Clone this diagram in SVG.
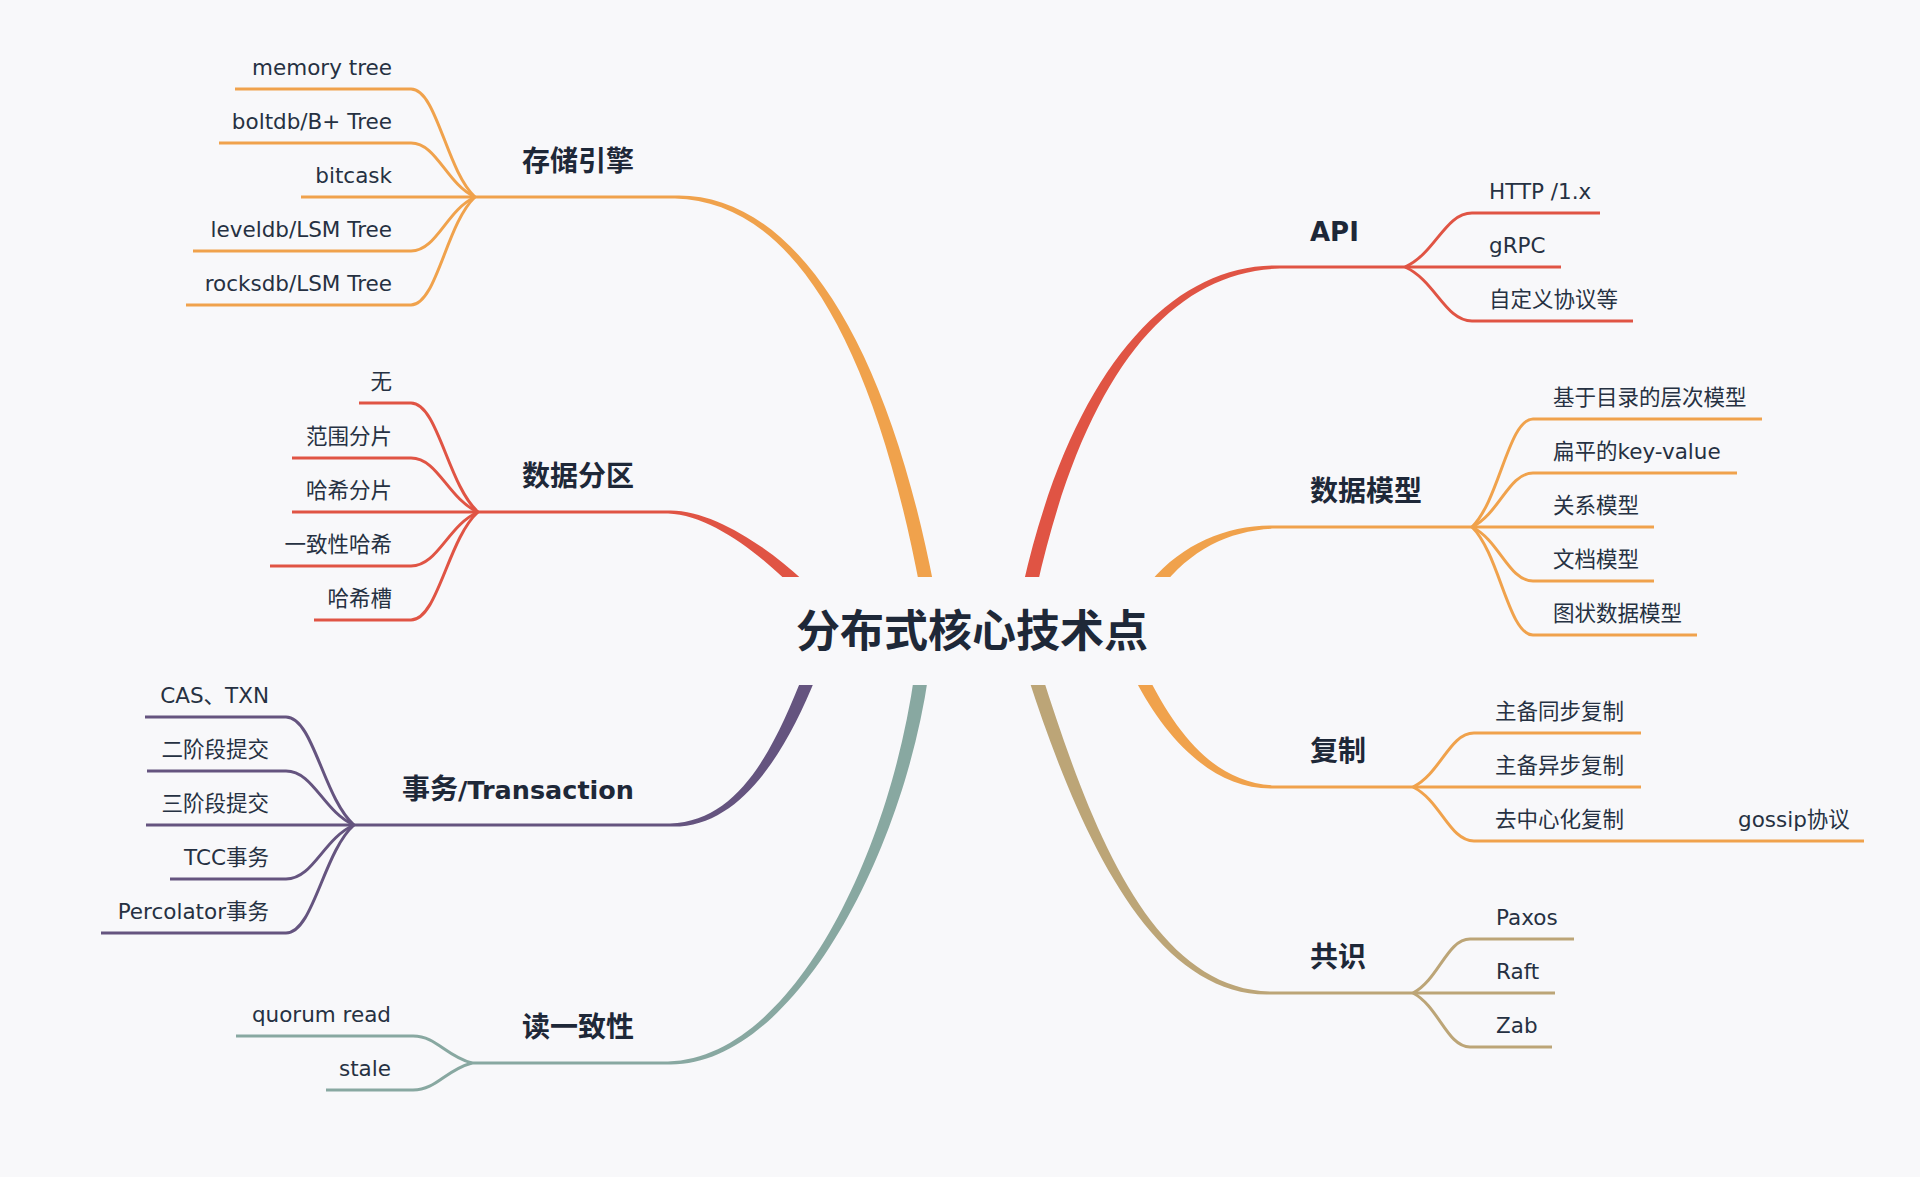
<svg xmlns="http://www.w3.org/2000/svg" width="1920" height="1177" viewBox="0 0 1920 1177">
<defs>
<style>
.c{font-family:"DejaVu Sans","Noto Sans CJK SC",sans-serif;font-size:21.5px;fill:#263142}
.m{font-family:"DejaVu Sans","Noto Sans CJK SC",sans-serif;font-size:28px;font-weight:700;fill:#1e2838}
.root{font-family:"Noto Sans CJK SC",sans-serif;font-size:44px;font-weight:700;fill:#1e2838}
.ln{fill:none;stroke-width:3;stroke-linecap:butt}
.or{stroke:#F0A24C}.rd{stroke:#E05444}.pu{stroke:#65547F}.te{stroke:#88A8A1}.ta{stroke:#BCA577}
</style>
<clipPath id="cut">
<rect x="0" y="0" width="1920" height="577"/>
<rect x="0" y="685" width="1920" height="492"/>
</clipPath>
</defs>
<rect width="1920" height="1177" fill="#F8F8FA"/>

<g id="connectors">
<g id="branches" clip-path="url(#cut)">
<path fill="#F0A24C" d="M933.8 585.5 C882.4 320.8 785 192.5 675 195.5 L675 198.5 C785 201.5 869.6 323.2 920 588.1 Z"/>
<path fill="#E05444" d="M802.4 579.7 C765.5 545.4 710 509 668 510.5 L668 513.5 C710 515 758.5 552.6 794 588.3 Z"/>
<path fill="#65547F" d="M803.7 673.3 C774.4 747.8 740 821 670 823.5 L670 826.5 C740 829 785.6 752.2 815.7 678.1 Z"/>
<path fill="#88A8A1" d="M914.5 674.1 C888.6 859.1 790 1058.5 668 1061.5 L668 1064.5 C790 1067.5 901.4 860.9 928.3 676.1 Z"/>
<path fill="#E05444" d="M1036.6 588.3 C1084.3 372.4 1171 271.5 1280 268.5 L1280 265.5 C1171 262.5 1071.7 369.6 1023 585.3 Z"/>
<path fill="#F0A24C" d="M1160.4 588.6 C1190.9 549.1 1230 530 1275 528.5 L1275 525.5 C1230 524 1183.1 542.9 1151 581 Z"/>
<path fill="#F0A24C" d="M1134.7 679.1 C1166.7 740.7 1215 791 1275 788.5 L1275 785.5 C1215 783 1177.3 735.3 1146.3 673.1 Z"/>
<path fill="#BCA577" d="M1028.2 677.6 C1076.8 827 1150 997.5 1270 994.5 L1270 991.5 C1150 988.5 1089.2 823 1041.6 673.4 Z"/>
</g>
<g class="ln or">
<path d="M475 197 H675"/>
<path d="M235 89 H411 C436.6 89 446.2 170 475 197"/>
<path d="M219 143 H411 C436.6 143 446.2 183.5 475 197"/>
<path d="M301 197 H475"/>
<path d="M193 251 H411 C436.6 251 446.2 210.5 475 197"/>
<path d="M186 305 H411 C436.6 305 446.2 224 475 197"/>
</g>
<g class="ln rd">
<path d="M478 512 H668"/>
<path d="M359 403 H411 C437.8 403 447.8 484.8 478 512"/>
<path d="M292 458 H411 C437.8 458 447.8 498.5 478 512"/>
<path d="M292 512 H478"/>
<path d="M270 566 H411 C437.8 566 447.8 525.5 478 512"/>
<path d="M314 620 H411 C437.8 620 447.8 539 478 512"/>
</g>
<g class="ln pu">
<path d="M354 825 H670"/>
<path d="M145 717 H286 C313.2 717 323.4 798 354 825"/>
<path d="M147 771 H286 C313.2 771 323.4 811.5 354 825"/>
<path d="M146 825 H354"/>
<path d="M170 879 H286 C313.2 879 323.4 838.5 354 825"/>
<path d="M101 933 H286 C313.2 933 323.4 852 354 825"/>
</g>
<g class="ln te">
<path d="M472 1063 H668"/>
<path d="M236 1036 H413 C436.6 1036 445.4 1056 472 1063"/>
<path d="M326 1090 H413 C436.6 1090 445.4 1070 472 1063"/>
</g>
<g class="ln rd">
<path d="M1280 267 H1405"/>
<path d="M1405 267 C1435.2 253.5 1445.2 213 1472 213 H1600"/>
<path d="M1405 267 H1561"/>
<path d="M1405 267 C1435.2 280.5 1445.2 321 1472 321 H1633"/>
</g>
<g class="ln or">
<path d="M1275 527 H1472"/>
<path d="M1472 527 C1499.5 500 1508.6 419 1533 419 H1762"/>
<path d="M1472 527 C1499.5 513.5 1508.6 473 1533 473 H1737"/>
<path d="M1472 527 H1654"/>
<path d="M1472 527 C1499.5 540.5 1508.6 581 1533 581 H1654"/>
<path d="M1472 527 C1499.5 554 1508.6 635 1533 635 H1697"/>
</g>
<g class="ln or">
<path d="M1275 787 H1413"/>
<path d="M1413 787 C1440.5 773.5 1449.6 733 1474 733 H1641"/>
<path d="M1413 787 H1641"/>
<path d="M1413 787 C1440.5 800.5 1449.6 841 1474 841 H1864"/>
</g>
<g class="ln ta">
<path d="M1270 993 H1413"/>
<path d="M1413 993 C1438.7 979.5 1447.2 939 1470 939 H1574"/>
<path d="M1413 993 H1555"/>
<path d="M1413 993 C1438.7 1006.5 1447.2 1047 1470 1047 H1552"/>
</g>
</g>

<g id="root"><text class="root" x="972" y="647" text-anchor="middle">分布式核心技术点</text></g>

<g id="storage"><text class="m" x="634" y="171" text-anchor="end">存储引擎</text></g>
<g id="storage-1"><text class="c" x="392" y="75" text-anchor="end">memory tree</text></g>
<g id="storage-2"><text class="c" x="392" y="129" text-anchor="end">boltdb/B+ Tree</text></g>
<g id="storage-3"><text class="c" x="392" y="183" text-anchor="end">bitcask</text></g>
<g id="storage-4"><text class="c" x="392" y="237" text-anchor="end">leveldb/LSM Tree</text></g>
<g id="storage-5"><text class="c" x="392" y="291" text-anchor="end">rocksdb/LSM Tree</text></g>

<g id="partition"><text class="m" x="634" y="486" text-anchor="end">数据分区</text></g>
<g id="partition-1"><text class="c" x="392" y="389" text-anchor="end">无</text></g>
<g id="partition-2"><text class="c" x="392" y="444" text-anchor="end">范围分片</text></g>
<g id="partition-3"><text class="c" x="392" y="498" text-anchor="end">哈希分片</text></g>
<g id="partition-4"><text class="c" x="392" y="552" text-anchor="end">一致性哈希</text></g>
<g id="partition-5"><text class="c" x="392" y="606" text-anchor="end">哈希槽</text></g>

<g id="txn"><text class="m" x="634" y="799" text-anchor="end">事务<tspan style="font-size:25.5px">/Transaction</tspan></text></g>
<g id="txn-1"><text class="c" x="269" y="703" text-anchor="end">CAS、TXN</text></g>
<g id="txn-2"><text class="c" x="269" y="757" text-anchor="end">二阶段提交</text></g>
<g id="txn-3"><text class="c" x="269" y="811" text-anchor="end">三阶段提交</text></g>
<g id="txn-4"><text class="c" x="269" y="865" text-anchor="end">TCC事务</text></g>
<g id="txn-5"><text class="c" x="269" y="919" text-anchor="end">Percolator事务</text></g>

<g id="read"><text class="m" x="634" y="1037" text-anchor="end">读一致性</text></g>
<g id="read-1"><text class="c" x="391" y="1022" text-anchor="end">quorum read</text></g>
<g id="read-2"><text class="c" x="391" y="1076" text-anchor="end">stale</text></g>

<g id="api"><text class="m" x="1310" y="241" style="font-size:26px">API</text></g>
<g id="api-1"><text class="c" x="1489" y="199">HTTP /1.x</text></g>
<g id="api-2"><text class="c" x="1489" y="253">gRPC</text></g>
<g id="api-3"><text class="c" x="1489" y="307">自定义协议等</text></g>

<g id="model"><text class="m" x="1310" y="501">数据模型</text></g>
<g id="model-1"><text class="c" x="1553" y="405">基于目录的层次模型</text></g>
<g id="model-2"><text class="c" x="1553" y="459">扁平的key-value</text></g>
<g id="model-3"><text class="c" x="1553" y="513">关系模型</text></g>
<g id="model-4"><text class="c" x="1553" y="567">文档模型</text></g>
<g id="model-5"><text class="c" x="1553" y="621">图状数据模型</text></g>

<g id="repl"><text class="m" x="1310" y="761">复制</text></g>
<g id="repl-1"><text class="c" x="1495" y="719">主备同步复制</text></g>
<g id="repl-2"><text class="c" x="1495" y="773">主备异步复制</text></g>
<g id="repl-3"><text class="c" x="1495" y="827">去中心化复制</text></g>
<g id="repl-3-1"><text class="c" x="1738" y="827">gossip协议</text></g>

<g id="consensus"><text class="m" x="1310" y="967">共识</text></g>
<g id="consensus-1"><text class="c" x="1496" y="925">Paxos</text></g>
<g id="consensus-2"><text class="c" x="1496" y="979">Raft</text></g>
<g id="consensus-3"><text class="c" x="1496" y="1033">Zab</text></g>
</svg>
